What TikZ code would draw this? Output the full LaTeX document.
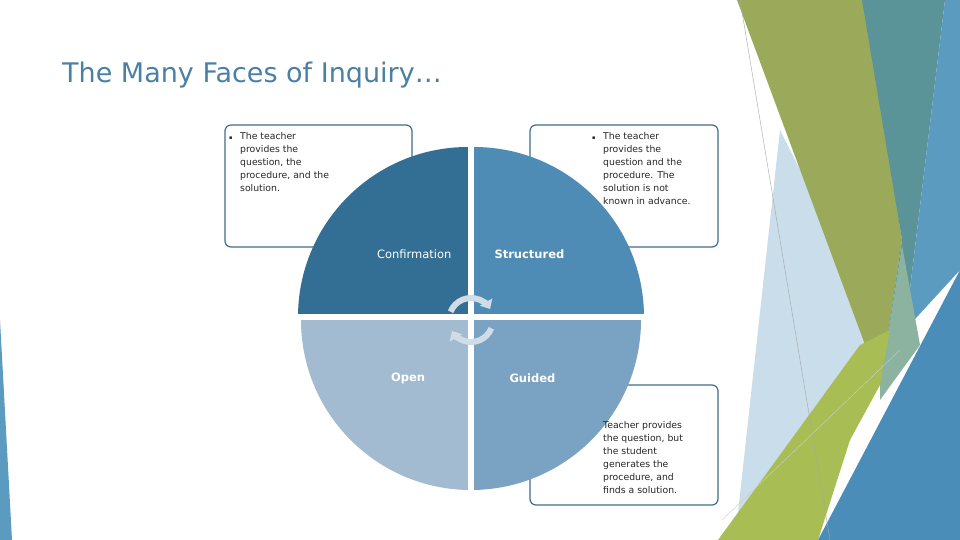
\documentclass[tikz,border=0pt]{standalone}
\usepackage{fontspec}
\setmainfont{DejaVu Sans}
\usetikzlibrary{arrows.meta}
\definecolor{ttl}{HTML}{4A80A4}
\definecolor{bx}{HTML}{3F6E8C}
\definecolor{qTL}{HTML}{336E94}
\definecolor{qTR}{HTML}{4E8CB6}
\definecolor{qBL}{HTML}{A3BBD1}
\definecolor{qBR}{HTML}{7AA2C3}
\definecolor{arc}{HTML}{D2DCE6}
\tikzset{
  box/.style={draw=bx,line width=1.2pt,rounded corners=6pt,fill=white},
  btxt/.style={font=\fontsize{9.3}{13}\selectfont,align=left,anchor=north west,inner sep=0pt,text=black!85},
  qlab/.style={font=\fontsize{11.5}{14}\selectfont,text=white},
}
\begin{document}
\begin{tikzpicture}[x=1pt,y=-1pt]
\useasboundingbox (0,0) rectangle (960,540);
\fill[white] (0,0) rectangle (960,540);
% decoration
\fill[color={rgb,255:red,201;green,221;blue,234}] (780,130) -- (830,230) -- (890,330) -- (760,540) -- (735,540) -- cycle;
\fill[color={rgb,255:red,154;green,170;blue,90}] (737,0) -- (865,0) -- (902,240) -- (880,385) -- cycle;
\fill[color={rgb,255:red,90;green,148;blue,152}] (862,0) -- (945,0) -- (905,330) -- (880,385) -- (902,240) -- cycle;
\fill[color={rgb,255:red,91;green,155;blue,191}] (945,0) -- (960,0) -- (960,270) -- (905,330) -- cycle;
\fill[color={rgb,255:red,140;green,178;blue,160}] (902,245) -- (920,345) -- (880,400) -- (880,385) -- cycle;
\fill[color={rgb,255:red,168;green,190;blue,85}] (718,540) -- (860,345) -- (890,330) -- (880,385) -- (850,440) -- (818,540) -- cycle;
\fill[color={rgb,255:red,74;green,141;blue,184}] (818,540) -- (960,270) -- (960,540) -- cycle;
\fill[color={rgb,255:red,91;green,155;blue,191}] (0,320) -- (12,540) -- (0,540) -- cycle;
\draw[gray!70,line width=0.4pt] (740,0) -- (830,540);
\draw[gray!40,line width=0.4pt] (722,520) -- (900,350);
% title
\node[anchor=west,font=\fontsize{27}{30}\selectfont,text=ttl,inner sep=0pt] (title) at (62,75) {The Many Faces of Inquiry…};
% boxes
\draw[box] (225,125) rectangle (412,247);
\draw[box] (530,125) rectangle (718,247);
\draw[box] (530,385) rectangle (718,505);
% circle quadrants (y axis points down: angle 270 = top)
\def\g{3}
\fill[qTL] (471-\g,317-\g) -- (471-\g,147) arc[start angle=270,end angle=180,radius=170] -- cycle;
\fill[qTR] (471+\g,317-\g) -- (471+\g,147) arc[start angle=270,end angle=360,radius=170] -- cycle;
\fill[qBL] (471-\g,317+\g) -- (301,317+\g) arc[start angle=180,end angle=90,radius=170] -- cycle;
\fill[qBR] (471+\g,317+\g) -- (641,317+\g) arc[start angle=0,end angle=90,radius=170] -- cycle;
\fill[white] (471-\g,140) rectangle (471+\g,490);
\fill[white] (295,317-\g) rectangle (645,317+\g);
% arrows
\coordinate (c) at (471,320);
\draw[arc,line width=6pt,-{Triangle[length=8pt,width=14pt]}] ([shift={(202:22)}]c) arc[start angle=202,end angle=330,radius=22];
\draw[arc,line width=6pt,-{Triangle[length=8pt,width=14pt]}] ([shift={(22:22)}]c) arc[start angle=22,end angle=150,radius=22];
% labels
\node[qlab,anchor=east] (conf) at (455,254) {Confirmation};
\node[qlab,anchor=west,font=\fontsize{11.5}{14}\bfseries] (str) at (491,254) {Structured};
\node[qlab,font=\fontsize{11.5}{14}\bfseries] (open) at (408,378) {Open};
\node[qlab,anchor=west,font=\fontsize{11.5}{14}\bfseries] (gui) at (506,378) {Guided};
% box texts
\node[btxt] (t1) at (229,132) {\makebox[11pt][l]{\tiny▪}The teacher\\\hspace{11pt}provides the\\\hspace{11pt}question, the\\\hspace{11pt}procedure, and the\\\hspace{11pt}solution.};
\node[btxt] (t2) at (592,132) {\makebox[11pt][l]{\tiny▪}The teacher\\\hspace{11pt}provides the\\\hspace{11pt}question and the\\\hspace{11pt}procedure. The\\\hspace{11pt}solution is not\\\hspace{11pt}known in advance.};
\node[btxt] (t3) at (603,421) {Teacher provides\\the question, but\\the student\\generates the\\procedure, and\\finds a solution.};
\end{tikzpicture}
\end{document}
